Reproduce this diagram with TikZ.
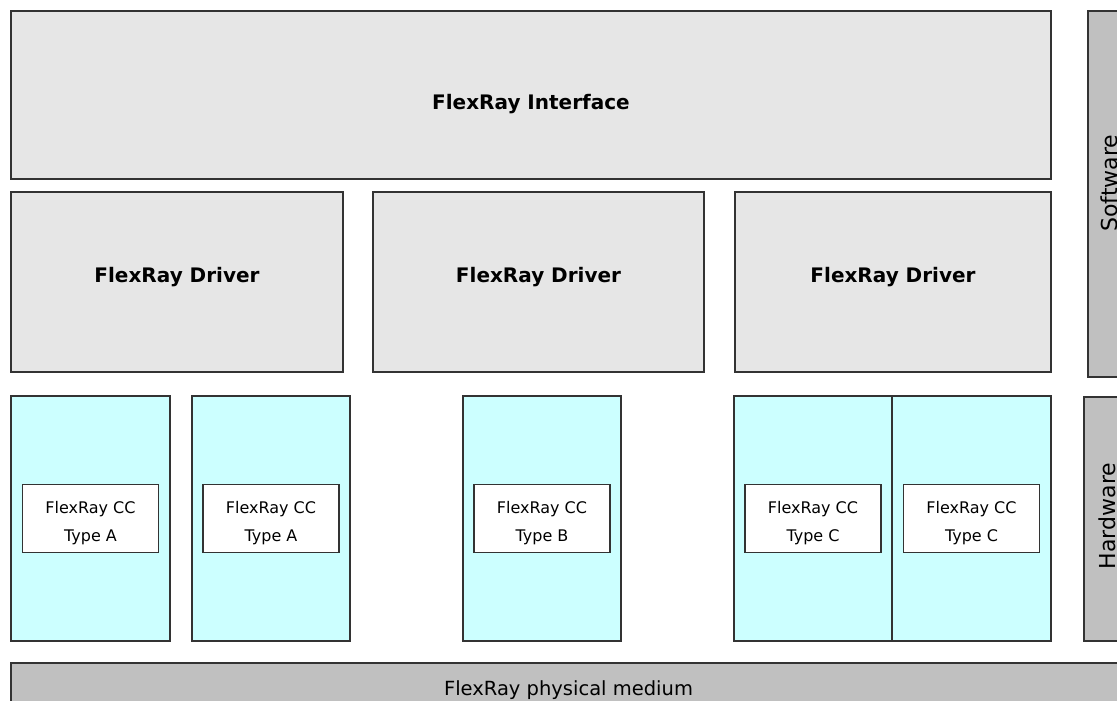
\documentclass[tikz,border=0pt]{standalone}
\usepackage{fontspec}
\setmainfont{DejaVu Sans}
\definecolor{layergray}{HTML}{E6E6E6}
\definecolor{cccyan}{HTML}{CCFFFF}
\definecolor{sidegray}{HTML}{C0C0C0}
\definecolor{edge}{HTML}{333333}
\begin{document}
\begin{tikzpicture}[x=1pt,y=-1pt,
    box/.style={draw=edge, line width=1.3pt, anchor=north west, inner sep=0pt, outer sep=0pt},
    swlayer/.style={box, fill=layergray, font=\bfseries\fontsize{20}{24}\selectfont},
    hwlayer/.style={box, fill=cccyan, line width=1.2pt, minimum height=245pt},
    ccbox/.style={draw=edge, line width=1.3pt, fill=white, minimum width=136pt, minimum height=68pt,
        inner sep=0pt, align=center, font=\fontsize{16}{28}\selectfont},
    side/.style={box, fill=sidegray},
    sidetext/.style={rotate=90, anchor=base, font=\fontsize{22}{26}\selectfont}]
    \useasboundingbox (0,0) rectangle (1117,701);
    \clip (0,0) rectangle (1117,701);

    % software layers
    \node[swlayer, minimum width=1040pt, minimum height=168pt, text height=34pt, text depth=4pt] (I) at (11,11) {FlexRay Interface};
    \node[swlayer, minimum width=332pt, minimum height=180pt, text height=10pt, text depth=10pt] (D1) at (11,192) {FlexRay Driver};
    \node[swlayer, minimum width=331pt, minimum height=180pt, text height=10pt, text depth=10pt] (D2) at (373,192) {FlexRay Driver};
    \node[swlayer, minimum width=316pt, minimum height=180pt, text height=10pt, text depth=10pt] (D3) at (735,192) {FlexRay Driver};

    % hardware
    \node[hwlayer, minimum width=159pt] (H1) at (11,396) {};
    \node[hwlayer, minimum width=158pt] (H2) at (192,396) {};
    \node[hwlayer, minimum width=158pt] (H3) at (463,396) {};
    \node[hwlayer, minimum width=158pt] (H4) at (734,396) {};
    \node[hwlayer, minimum width=159pt] (H5) at (892,396) {};
    \foreach \h/\t in {1/A,2/A,3/B,4/C,5/C}
        \node[ccbox] (C\h) at (H\h.center) {\rule{0pt}{22pt}FlexRay CC\\Type \t};

    \node[box, fill=sidegray, minimum width=1115pt, minimum height=54pt, font=\fontsize{19.5}{24}\selectfont] (P) at (11,663) {FlexRay physical medium};

    % side bars
    \node[side, minimum width=46pt, minimum height=366pt] (S) at (1088,11) {};
    \node[side, minimum width=50pt, minimum height=244pt] (W) at (1084,397) {};
    \node[sidetext] (St) at (1117,183) {Software};
    \node[sidetext] (Wt) at (1115,516) {Hardware};
\end{tikzpicture}
\end{document}
